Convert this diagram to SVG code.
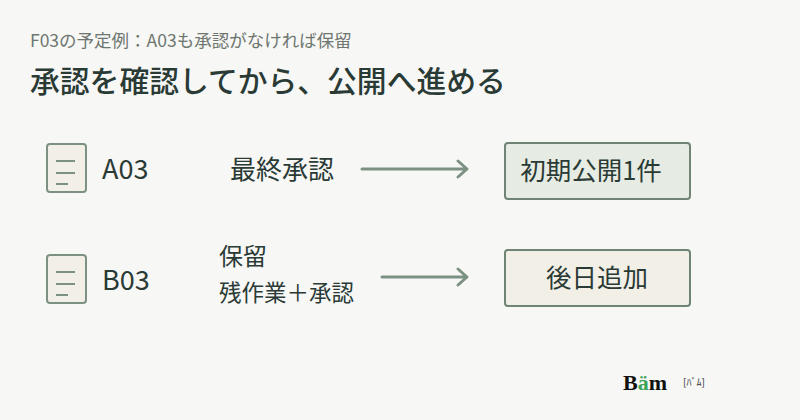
<svg xmlns="http://www.w3.org/2000/svg" width="800" height="420" viewBox="0 0 800 420">
<style>
text{font-family:"Noto Sans CJK JP","Noto Sans",sans-serif;fill:#2a3a35}
.doc{fill:#f1efe6;stroke:#7d9183;stroke-width:2}
.dl{stroke:#7d9183;stroke-width:2}
.ar{stroke:#7d9183;stroke-width:3;fill:none;stroke-linecap:round;stroke-linejoin:round}
.box{stroke:#6f8474;stroke-width:2}
</style>
<rect width="800" height="420" fill="#f7f7f5"/>
<text x="30" y="47" font-size="17.5" style="fill:#6e7670">F03の予定例：A03も承認がなければ保留</text>
<text x="30" y="92" font-size="29.8" font-weight="500">承認を確認してから、公開へ進める</text>
<g id="docA03"><rect class="doc" x="47" y="144" width="39" height="48" rx="3"/>
<path class="dl" d="M56 161h19M56 173h19M56 184h12"/>
<text x="102" y="179" font-size="27">A03</text></g>
<g id="docB03"><rect class="doc" x="47" y="255" width="39" height="48" rx="3"/>
<path class="dl" d="M56 272h19M56 284h19M56 295h12"/>
<text x="102" y="290" font-size="27">B03</text></g>
<g id="labelA"><text x="230" y="179" font-size="26">最終承認</text></g>
<g id="labelB"><text x="219" y="265" font-size="24">保留</text><text x="219" y="301" font-size="22.5">残作業＋承認</text></g>
<g id="connectors">
<path class="ar" d="M362 169H467M458 161l9 8-9 8"/>
<path class="ar" d="M382 277H467M458 269l9 8-9 8"/>
</g>
<g id="pubA"><rect class="box" x="505" y="143" width="185" height="56" rx="3" fill="#e6ebe3"/>
<text x="591" y="180" font-size="25.5" text-anchor="middle">初期公開1件</text></g>
<g id="pubB"><rect class="box" x="505" y="250" width="185" height="56" rx="3" fill="#f2f0e6"/>
<text x="597" y="287" font-size="25.5" text-anchor="middle">後日追加</text></g>
<g id="logo"><text x="623" y="390" font-size="22" font-weight="900" style="font-family:'Liberation Serif',serif;fill:#111">B<tspan style="fill:#3aa356">ä</tspan>m</text>
<text x="683" y="386" font-size="10" style="fill:#333">[ﾊﾞﾑ]</text></g>
</svg>
